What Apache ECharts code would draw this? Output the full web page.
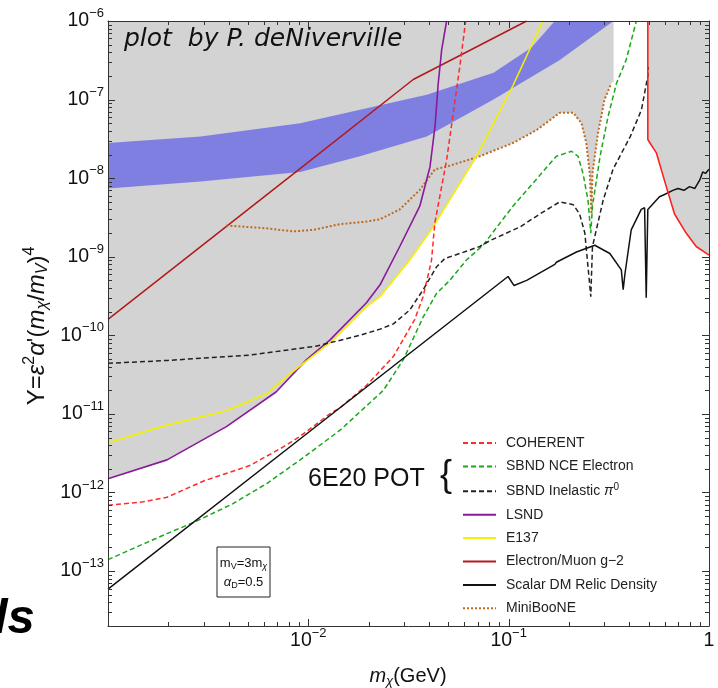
<!DOCTYPE html>
<html><head><meta charset="utf-8">
<script src="https://cdn.jsdelivr.net/npm/echarts@6/dist/echarts.min.js"></script>
<style>html,body{margin:0;padding:0;background:#fff}#c{width:718px;height:688px}</style>
</head><body><div id="c"></div>
<script>
// ---------- axis ranges & tick labels ----------
const X_MIN = 1e-3, X_MAX = 1, Y_MIN = 2e-14, Y_MAX = 1e-6;
const xLabelExponents = [-2, -1, 0];
const yLabelExponents = [-13, -12, -11, -10, -9, -8, -7, -6];

// ---------- series data: [m_chi (GeV), Y] ----------
const coherent = [[0.001,6.9e-13],[0.0015,7.6e-13],[0.00197,8.7e-13],[0.003,1.4e-12],[0.0051,2.2e-12],[0.0075,3.8e-12],[0.0091,5.2e-12],[0.0128,1.0e-11],[0.0144,1.2e-11],[0.0195,2.3e-11],[0.0266,5.4e-11],[0.034,1.6e-10],[0.0374,3.1e-10],[0.0412,9e-10],[0.0428,2.7e-9],[0.049,1.7e-8],[0.057,2.6e-7],[0.061,1e-6]];
const sbndElectron = [[0.001,1.4e-13],[0.00197,3.0e-13],[0.0027,4.2e-13],[0.0042,7.2e-13],[0.0062,1.3e-12],[0.0091,2.6e-12],[0.0144,6.2e-12],[0.0237,2.0e-11],[0.0298,4.9e-11],[0.0374,1.7e-10],[0.0436,3.4e-10],[0.0508,5.0e-10],[0.0616,9.1e-10],[0.0745,1.4e-9],[0.105,4.4e-9],[0.173,1.9e-8],[0.206,2.2e-8],[0.222,1.9e-8],[0.235,1.15e-8],[0.249,5.2e-9],[0.257,2.0e-9],[0.262,4.4e-9],[0.286,1.9e-8],[0.313,6.0e-8],[0.345,1.6e-7],[0.386,3.2e-7],[0.434,1e-6]];
const sbndPi0 = [[0.001,4.4e-11],[0.002,4.8e-11],[0.0051,5.6e-11],[0.011,7.3e-11],[0.0181,1.0e-10],[0.0228,1.2e-10],[0.0266,1.4e-10],[0.0321,2.1e-10],[0.0374,3.8e-10],[0.0436,7.4e-10],[0.048,9.5e-10],[0.057,1.1e-9],[0.0718,1.35e-9],[0.0805,1.6e-9],[0.114,2.4e-9],[0.143,3.5e-9],[0.18,5.0e-9],[0.21,4.6e-9],[0.226,3.5e-9],[0.24,2.0e-9],[0.249,7.4e-10],[0.257,3.1e-10],[0.262,1.35e-9],[0.296,5.2e-9],[0.332,1.3e-8],[0.405,3.4e-8],[0.46,7.4e-8],[0.495,2e-7],[0.497,2.6e-7]];
const lsnd = [[0.001,1.5e-12],[0.00197,2.6e-12],[0.0039,6.9e-12],[0.0069,1.9e-11],[0.0098,4.9e-11],[0.0128,8.7e-11],[0.0195,2.6e-10],[0.0228,4.4e-10],[0.0286,1.35e-9],[0.036,4.4e-9],[0.0405,1.4e-8],[0.0429,4.6e-8],[0.0445,1.6e-7],[0.0463,4.3e-7],[0.049,1e-6]];
const e137 = [[0.001,4.3e-12],[0.00197,7.2e-12],[0.0039,1.1e-11],[0.0062,1.8e-11],[0.0078,3.0e-11],[0.0133,8.7e-11],[0.0195,2.3e-10],[0.0228,3.1e-10],[0.0321,9.1e-10],[0.042,2.4e-9],[0.069,1.9e-8],[0.105,1.5e-7],[0.148,1e-6]];
const gMinus2 = [[0.001,1.6e-10],[0.01,1.6e-8],[0.0334,1.8e-7],[0.059,3.8e-7],[0.123,1e-6]];
const relic = [[0.001,5.9e-14],[0.01,5.8e-12],[0.0993,5.6e-10],[0.1064,4.3e-10],[0.123,5.0e-10],[0.17,8.0e-10],[0.173,8.5e-10],[0.218,1.15e-9],[0.269,1.4e-9],[0.32,1.1e-9],[0.365,6.8e-10],[0.373,3.8e-10],[0.38,5.9e-10],[0.409,2.2e-9],[0.459,4.0e-9],[0.477,4.2e-9],[0.486,3.0e-10],[0.495,4.0e-9],[0.566,5.8e-9],[0.6,6.2e-9],[0.66,7.0e-9],[0.7,7.4e-9],[0.75,7.0e-9],[0.8,7.8e-9],[0.85,7.4e-9],[0.9,9.5e-9],[0.93,1.2e-8],[0.96,1.15e-8],[1,1.3e-8]];
const miniBooNE = [[0.0039,2.5e-9],[0.0062,2.3e-9],[0.0084,2.1e-9],[0.0106,2.2e-9],[0.0144,2.6e-9],[0.0195,2.8e-9],[0.0228,3.0e-9],[0.0286,4.0e-9],[0.036,7.1e-9],[0.0429,1.3e-8],[0.049,1.4e-8],[0.0718,1.9e-8],[0.105,2.8e-8],[0.138,4.1e-8],[0.18,6.8e-8],[0.21,6.8e-8],[0.231,5.0e-8],[0.244,2.8e-8],[0.254,1.15e-8],[0.259,3.5e-9],[0.262,1.15e-8],[0.279,3.7e-8],[0.301,1.0e-7],[0.325,1.6e-7]];
const redLimit = [[0.495,1e-6],[0.495,3.1e-8],[0.546,2.1e-8],[0.612,7.8e-9],[0.673,3.5e-9],[0.769,2.0e-9],[0.863,1.35e-9],[1,1.05e-9]];

// ---------- shaded regions ----------
const bandUpper = [[0.001,2.8e-8],[0.0029,3.4e-8],[0.0091,5.0e-8],[0.0181,7.4e-8],[0.039,1.15e-7],[0.084,2.2e-7],[0.13,4.6e-7],[0.17,1e-6]];
const bandLower = [[0.001,7.4e-9],[0.0029,9.1e-9],[0.0091,1.2e-8],[0.0181,1.9e-8],[0.039,3.4e-8],[0.084,1.0e-7],[0.18,3.2e-7],[0.334,1e-6]];
const grayLower = [[0.001,1.5e-12],[0.00197,2.6e-12],[0.0039,6.9e-12],[0.0069,1.9e-11],[0.0084,3.3e-11],[0.0133,8.7e-11],[0.0195,2.3e-10],[0.0228,3.1e-10],[0.0321,9.1e-10],[0.042,2.4e-9],[0.069,1.8e-8],[0.0718,1.9e-8],[0.105,2.8e-8],[0.138,4.1e-8],[0.18,6.8e-8],[0.21,6.8e-8],[0.231,5.0e-8],[0.244,2.8e-8],[0.254,1.15e-8],[0.259,3.5e-9],[0.262,1.15e-8],[0.279,3.7e-8],[0.301,1.0e-7],[0.325,1.6e-7],[0.334,1.7e-7],[0.334,1e-6],[0.001,1e-6]];
const grayRight = redLimit.concat([[1,1e-6]]);

const legendNames = ['COHERENT','SBND NCE Electron','SBND Inelastic π0','LSND','E137','Electron/Muon g−2','Scalar DM Relic Density','MiniBooNE'];

// ---------- helpers ----------
const FONT = 'Liberation Sans, Arial, sans-serif';
function lineSeries(name, data, color, width, type) {
  return { type:'line', name, data, symbol:'none', showSymbol:false, clip:true, z:3, animation:false,
    lineStyle:{ color, width, type: type || 'solid' }, itemStyle:{ color } };
}
function polySeries(name, pts, color, z) {
  return { type:'custom', name, silent:true, z, clip:true, animation:false,
    data:[[X_MIN, Y_MIN]],
    renderItem(params, api) {
      return { type:'polygon', shape:{ points: pts.map(p => api.coord(p)) }, style:{ fill: color } };
    } };
}
// tick marks (major at decades, minor at 2..9)
const tickItems = [];
for (let e = -3; e <= 0; e++) for (let k = 1; k <= 9; k++) {
  const v = k * Math.pow(10, e);
  if (v >= X_MIN * 0.999 && v <= X_MAX * 1.001) tickItems.push({ ax:'x', v, major: k === 1 });
}
for (let e = -14; e <= -6; e++) for (let k = 1; k <= 9; k++) {
  const v = k * Math.pow(10, e);
  if (v >= Y_MIN * 0.999 && v <= Y_MAX * 1.001) tickItems.push({ ax:'y', v, major: k === 1 });
}
const tickSeries = { type:'custom', silent:true, z:6, clip:false, animation:false,
  data: tickItems.map(() => [X_MIN, Y_MIN]),
  renderItem(params, api) {
    const t = tickItems[params.dataIndex];
    const len = t.major ? 7 : 4;
    const st = { stroke:'#333', lineWidth:1 };
    if (t.ax === 'x') {
      const b = api.coord([t.v, Y_MIN]), tp = api.coord([t.v, Y_MAX]);
      const x = Math.round(b[0]) + 0.5;
      return { type:'group', children:[
        { type:'line', shape:{ x1:x, y1:b[1], x2:x, y2:b[1]-len }, style:st },
        { type:'line', shape:{ x1:x, y1:tp[1], x2:x, y2:tp[1]+len }, style:st } ] };
    } else {
      const l = api.coord([X_MIN, t.v]), r = api.coord([X_MAX, t.v]);
      const y = Math.round(l[1]) + 0.5;
      return { type:'group', children:[
        { type:'line', shape:{ x1:l[0], y1:y, x2:l[0]+len, y2:y }, style:st },
        { type:'line', shape:{ x1:r[0], y1:y, x2:r[0]-len, y2:y }, style:st } ] };
    }
  } };

function expLabel(v, list) {
  const n = Math.round(Math.log10(v));
  if (Math.abs(Math.log10(v) - n) > 1e-6 || list.indexOf(n) < 0) return '';
  if (n === 0) return '{b|1}';
  return '{b|10}{s|−' + Math.abs(n) + '}';
}
const labelRich = {
  b:{ fontSize:19.5, fontFamily:FONT, color:'#111' },
  s:{ fontSize:13, fontFamily:FONT, color:'#111', padding:[0,0,15,0] }
};

const chart = echarts.init(document.getElementById('c'), null, { renderer:'canvas' });
chart.setOption({
  animation:false,
  backgroundColor:'#fff',
  grid:{ left:108, right:9, top:21, bottom:62 },
  xAxis:[
    { type:'log', logBase:10, min:X_MIN, max:X_MAX, position:'bottom', z:7,
      axisLine:{ show:true, lineStyle:{ color:'#333', width:1 } },
      axisTick:{ show:false }, splitLine:{ show:false }, minorTick:{ show:false },
      axisLabel:{ show:true, margin:15, verticalAlign:'middle', showMinLabel:false,
        formatter: v => expLabel(v, xLabelExponents), rich: labelRich } },
    { type:'log', logBase:10, min:X_MIN, max:X_MAX, position:'top', z:7,
      axisLine:{ show:true, onZero:false, lineStyle:{ color:'#333', width:1 } },
      axisTick:{ show:false }, axisLabel:{ show:false }, splitLine:{ show:false } }
  ],
  yAxis:[
    { type:'log', logBase:10, min:Y_MIN, max:Y_MAX, position:'left', z:7,
      axisLine:{ show:true, lineStyle:{ color:'#333', width:1 } },
      axisTick:{ show:false }, splitLine:{ show:false },
      axisLabel:{ show:true, margin:4, showMinLabel:false,
        formatter: v => expLabel(v, yLabelExponents), rich: labelRich } },
    { type:'log', logBase:10, min:Y_MIN, max:Y_MAX, position:'right', z:7,
      axisLine:{ show:true, onZero:false, lineStyle:{ color:'#333', width:1 } },
      axisTick:{ show:false }, axisLabel:{ show:false }, splitLine:{ show:false } }
  ],
  legend:{
    data: legendNames, orient:'vertical', left:457, top:430, itemWidth:33, itemHeight:16, itemGap:7.4,
    selectedMode:false, itemStyle:{ opacity:0 },
    textStyle:{ fontFamily:FONT, fontSize:14, color:'#222', lineHeight:16, padding:[0,0,0,5],
      rich:{ pi:{ fontFamily:FONT, fontSize:14, fontStyle:'italic', color:'#222' },
             sup:{ fontFamily:FONT, fontSize:10, color:'#222', padding:[0,0,9,0] } } },
    formatter: n => n === 'SBND Inelastic π0' ? 'SBND Inelastic {pi|π}{sup|0}' : n
  },
  series:[
    polySeries('grayMain', grayLower, '#d3d3d3', 1),
    polySeries('grayRight', grayRight, '#d3d3d3', 1),
    polySeries('band', bandUpper.concat(bandLower.slice().reverse()), '#7f7fe2', 2),
    lineSeries('Electron/Muon g−2', gMinus2, '#b3191c', 1.5),
    lineSeries('MiniBooNE', miniBooNE, '#c06a1e', 2, [2,2]),
    lineSeries('LSND', lsnd, '#8b1a9b', 1.6),
    lineSeries('E137', e137, '#f4f000', 1.6),
    lineSeries('COHERENT', coherent, '#ff2a2a', 1.5, [5,3]),
    lineSeries('SBND NCE Electron', sbndElectron, '#1aa81a', 1.5, [5,3]),
    lineSeries('SBND Inelastic π0', sbndPi0, '#222222', 1.5, [5,3]),
    lineSeries('Scalar DM Relic Density', relic, '#111111', 1.5),
    lineSeries('redLimit', redLimit, '#ff2020', 1.6),
    tickSeries
  ],
  graphic:[
    { type:'text', left:124, top:27, z:20, style:{ text:'plot  by P. deNiverville', font:'italic 25px "DejaVu Sans", sans-serif', fill:'#111' } },
    { type:'text', x:308, y:479, z:20, style:{ text:'6E20 POT', font:'25px "Liberation Sans", Arial, sans-serif', fill:'#111', verticalAlign:'middle' } },
    { type:'text', x:440, y:476, z:20, style:{ text:'{', font:'36px "Liberation Sans", Arial, sans-serif', fill:'#111', verticalAlign:'middle' } },
    { type:'rect', z:20, shape:{ x:217, y:547, width:53, height:50 }, style:{ fill:'#fff', stroke:'#222', lineWidth:1 } },
    { type:'text', x:243.5, y:563, z:21, style:{ text:'{n|m}{sub|V}{n|=3m}{subi|χ}', align:'center', verticalAlign:'middle',
      rich:{ n:{ fontSize:13, fontFamily:FONT, fill:'#111' }, sub:{ fontSize:9, fontFamily:FONT, fill:'#111', padding:[7,0,0,0] },
             subi:{ fontSize:9, fontFamily:FONT, fontStyle:'italic', fill:'#111', padding:[7,0,0,0] } } } },
    { type:'text', x:243.5, y:582, z:21, style:{ text:'{i|α}{sub|D}{n|=0.5}', align:'center', verticalAlign:'middle',
      rich:{ n:{ fontSize:13, fontFamily:FONT, fill:'#111' }, i:{ fontSize:13, fontFamily:FONT, fontStyle:'italic', fill:'#111' },
             sub:{ fontSize:9, fontFamily:FONT, fill:'#111', padding:[7,0,0,0] } } } },
    { type:'text', x:37, y:326, rotation:Math.PI/2, z:20, style:{
      text:'{n|Y=}{i|ε}{sup|2}{i|α}{n|\'(}{i|m}{sub|χ}{n|/}{i|m}{sub|V}{n|)}{sup|4}', align:'center', verticalAlign:'middle',
      rich:{ n:{ fontSize:24, fontFamily:FONT, fill:'#111' }, i:{ fontSize:24, fontFamily:FONT, fontStyle:'italic', fill:'#111' },
             sup:{ fontSize:16, fontFamily:FONT, fill:'#111', padding:[0,0,15,0] },
             sub:{ fontSize:16, fontFamily:FONT, fontStyle:'italic', fill:'#111', padding:[11,0,0,0] } } } },
    { type:'text', x:408, y:676, z:20, style:{
      text:'{i|m}{sub|χ}{n|(GeV)}', align:'center', verticalAlign:'middle',
      rich:{ n:{ fontSize:20, fontFamily:FONT, fill:'#111' }, i:{ fontSize:20, fontFamily:FONT, fontStyle:'italic', fill:'#111' },
             sub:{ fontSize:13, fontFamily:FONT, fontStyle:'italic', fill:'#111', padding:[10,0,0,0] } } } },
    { type:'text', x:-6, y:619, z:20, style:{ text:'ls', font:'italic bold 49px "Liberation Sans", Arial, sans-serif', fill:'#000', verticalAlign:'middle' } }
  ]
});
</script></body></html>
